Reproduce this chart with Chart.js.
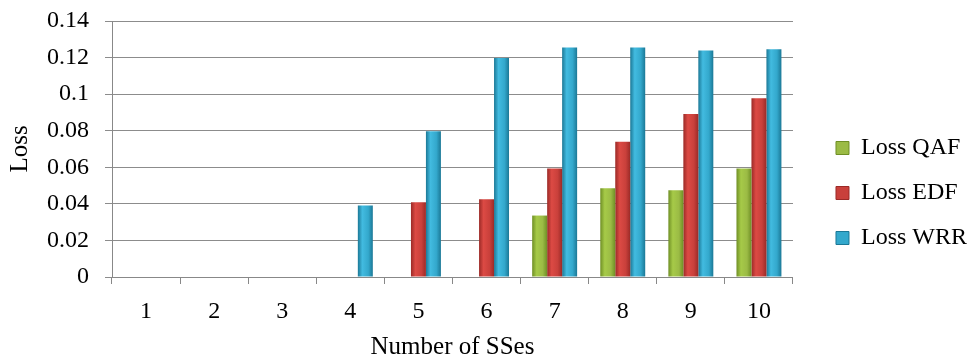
<!DOCTYPE html>
<html>
<head>
<meta charset="utf-8">
<script src="https://cdn.jsdelivr.net/npm/chart.js@4/dist/chart.umd.min.js"></script>
<style>
  html, body { margin: 0; padding: 0; background: #ffffff; }
  #wrap { width: 972px; height: 362px; position: relative; }
</style>
</head>
<body>
<div id="wrap"><canvas id="c" width="972" height="362"></canvas></div>
<script>
// ---- Data ----
const categories = ['1', '2', '3', '4', '5', '6', '7', '8', '9', '10'];
const lossQAF = [0, 0, 0, 0, 0, 0, 0.0336, 0.0485, 0.0474, 0.0594];
const lossEDF = [0, 0, 0, 0, 0.0409, 0.0425, 0.0594, 0.0739, 0.0892, 0.0977];
const lossWRR = [0, 0, 0, 0.0391, 0.0797, 0.1197, 0.1255, 0.1255, 0.1239, 0.1245];
const seriesNames = ['Loss QAF', 'Loss EDF', 'Loss WRR'];
const yTicks = [0, 0.02, 0.04, 0.06, 0.08, 0.1, 0.12, 0.14];

// ---- Styling ----
const CAT_PCT = 0.66;
const FONT = "'Liberation Serif', 'Times New Roman', serif";
const palettes = [
  { edge: '#6f8f25', mid: '#a6ca48', solid: '#9bbb45' },
  { edge: '#9b2a27', mid: '#dc4a44', solid: '#c9403b' },
  { edge: '#1b7896', mid: '#42bbe0', solid: '#33a8cc' }
];

function barFill(p) {
  return function (ctx) {
    if (ctx.type !== 'data') return p.solid;
    const chart = ctx.chart;
    const xs = chart.scales && chart.scales.x;
    if (!xs || !chart.chartArea || !isFinite(xs.width) || xs.width <= 0) return p.solid;
    const n = chart.data.labels.length;
    const nd = chart.data.datasets.length;
    const cw = xs.width / n;
    const gw = cw * CAT_PCT;
    const bw = gw / nd;
    const cx = xs.getPixelForValue(ctx.dataIndex);
    const left = cx - gw / 2 + ctx.datasetIndex * bw;
    const g = chart.ctx.createLinearGradient(left, 0, left + bw, 0);
    g.addColorStop(0, p.edge);
    g.addColorStop(0.3, p.mid);
    g.addColorStop(0.7, p.solid);
    g.addColorStop(1, p.edge);
    return g;
  };
}

const seriesData = [lossQAF, lossEDF, lossWRR];
const datasets = seriesNames.map((name, i) => ({
  label: name,
  data: seriesData[i],
  backgroundColor: barFill(palettes[i]),
  borderWidth: 0,
  categoryPercentage: CAT_PCT,
  barPercentage: 1.0,
  yAxisID: 'y'
}));

new Chart(document.getElementById('c'), {
  type: 'bar',
  data: { labels: categories, datasets: datasets },
  options: {
    responsive: false,
    animation: false,
    devicePixelRatio: 1,
    layout: { padding: { left: 0, right: -5, top: 0, bottom: 0 } },
    plugins: {
      legend: {
        position: 'right',
        align: 'center',
        title: {
          display: true,
          text: ' ',
          font: { size: 10 },
          padding: { top: 12, bottom: 0 }
        },
        labels: {
          font: { family: FONT, size: 24 },
          color: '#000000',
          boxWidth: 13,
          boxHeight: 13,
          padding: 21,
          generateLabels: function (chart) {
            return chart.data.datasets.map((ds, i) => ({
              text: ds.label,
              fillStyle: palettes[i].solid,
              strokeStyle: palettes[i].edge,
              lineWidth: 1,
              hidden: false,
              datasetIndex: i,
              fontColor: '#000000'
            }));
          }
        }
      },
      tooltip: { enabled: false }
    },
    scales: {
      x: {
        offset: true,
        afterFit: function (scale) { scale.height = 85; },
        grid: {
          offset: true,
          drawOnChartArea: false,
          drawTicks: true,
          tickLength: 7,
          color: '#888888',
          lineWidth: 1
        },
        border: { display: true, color: '#888888', width: 1 },
        ticks: {
          font: { family: FONT, size: 24 },
          color: '#000000',
          padding: 13,
          maxRotation: 0
        },
        title: {
          display: true,
          text: 'Number of SSes',
          font: { family: FONT, size: 25 },
          color: '#000000',
          padding: { top: 0, bottom: 0 }
        }
      },
      y: {
        min: 0,
        max: 0.14,
        position: 'left',
        afterFit: function (scale) {
          scale.width = 112;
          scale.paddingTop = 21;
        },
        afterBuildTicks: function (scale) {
          scale.ticks = yTicks.map(v => ({ value: v }));
        },
        grid: {
          drawOnChartArea: true,
          drawTicks: true,
          tickLength: 7,
          color: '#8c8c8c',
          lineWidth: 1
        },
        border: { display: true, color: '#888888', width: 1 },
        ticks: {
          font: { family: FONT, size: 24 },
          color: '#000000',
          padding: 16,
          callback: function (v) { return String(Math.round(v * 100) / 100); }
        },
        title: {
          display: true,
          text: 'Loss',
          font: { family: FONT, size: 25 },
          color: '#000000',
          padding: { top: 5, bottom: 0 }
        }
      },
      gap: {
        type: 'linear',
        position: 'right',
        display: true,
        afterFit: function (scale) { scale.width = 22; scale.paddingTop = 0; scale.paddingBottom = 0; },
        grid: { display: false, drawTicks: false },
        border: { display: false },
        ticks: { display: false }
      }
    }
  }
});
</script>
</body>
</html>
